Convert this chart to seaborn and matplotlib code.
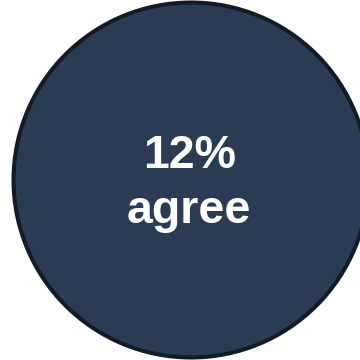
import matplotlib
matplotlib.use("Agg")
import matplotlib.pyplot as plt
from matplotlib.patches import Circle
import seaborn as sns

# Headline statistic shown inside the badge
share = [12]
response = ["agree"]

sns.set_theme(style="white")
plt.rcParams["font.family"] = ["Liberation Sans", "DejaVu Sans"]

fig = plt.figure(figsize=(3.6, 3.6), dpi=100)
ax = fig.add_axes([0, 0, 1, 1])
ax.set_xlim(0, 360)
ax.set_ylim(360, 0)
ax.set_aspect("equal")
ax.axis("off")

badge = Circle((191, 180), 177.5, facecolor="#293c53", edgecolor="#131b25",
               linewidth=2.9, clip_on=True)
ax.add_patch(badge)

ax.text(190, 168, f"{share[0]}%", ha="center", va="baseline", color="white",
        fontsize=33.5, fontweight="bold")
ax.text(189, 223, response[0], ha="center", va="baseline", color="white",
        fontsize=33.5, fontweight="bold")

fig.savefig("out.png", dpi=100)
